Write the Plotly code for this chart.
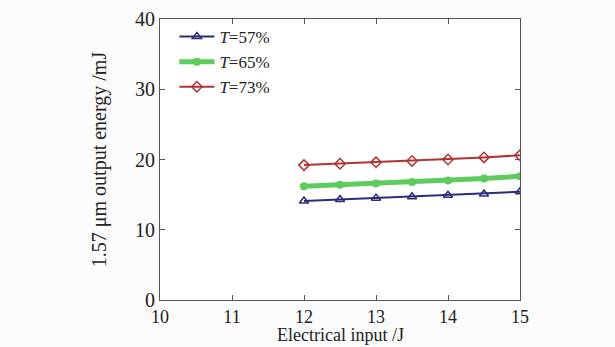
import plotly.graph_objects as go

x_vals = [12, 12.5, 13, 13.5, 14, 14.5, 15]
t57 = [14.1, 14.3, 14.5, 14.7, 14.9, 15.1, 15.4]
t65 = [16.2, 16.4, 16.6, 16.8, 17.0, 17.3, 17.6]
t73 = [19.2, 19.4, 19.6, 19.8, 20.0, 20.3, 20.6]
names = ["<i>T</i>=57%", "<i>T</i>=65%", "<i>T</i>=73%"]
x_title = "Electrical input /J"
y_title = "1.57 μm output energy /mJ"

font = "Liberation Serif, DejaVu Serif, serif"
fig = go.Figure()
fig.add_trace(go.Scatter(x=x_vals, y=t57, name=names[0], mode="lines+markers",
                         line=dict(color="#2a2c78", width=2),
                         marker=dict(symbol="triangle-up-open", size=8, color="#2a2c78", line=dict(width=1.5))))
fig.add_trace(go.Scatter(x=x_vals, y=t65, name=names[1], mode="lines+markers",
                         line=dict(color="#5ccc5c", width=5),
                         marker=dict(symbol="circle", size=8, color="#5ccc5c")))
fig.add_trace(go.Scatter(x=x_vals, y=t73, name=names[2], mode="lines+markers",
                         line=dict(color="#b03434", width=2),
                         marker=dict(symbol="diamond-open", size=8, color="#b03434", line=dict(width=1.5))))

axis_common = dict(showline=True, linecolor="#555", linewidth=1.2, mirror="ticks",
                   ticks="inside", ticklen=5, tickcolor="#555", showgrid=False, zeroline=False,
                   automargin=False)
fig.update_layout(
    width=615, height=347,
    margin=dict(l=160, r=95, t=19, b=47),
    paper_bgcolor="#fbfbfb", plot_bgcolor="#ffffff",
    font=dict(family=font, size=18, color="#222"),
    xaxis=dict(range=[10, 15], dtick=1, tickfont=dict(family=font, size=18, color="#222"),
               **axis_common),
    yaxis=dict(range=[0, 40], dtick=10, tickfont=dict(family=font, size=20, color="#222"),
               title=dict(text=y_title, standoff=22, font=dict(family=font, size=20)),
               **axis_common),
    legend=dict(x=0.04, y=1.0, xanchor="left", yanchor="top", bgcolor="rgba(0,0,0,0)",
                font=dict(family=font, size=17), tracegroupgap=0, itemwidth=35),
    showlegend=True,
)
fig.add_annotation(text=x_title, xref="paper", yref="paper", x=0.5, y=-0.166,
                   xanchor="center", yanchor="bottom", showarrow=False,
                   font=dict(family=font, size=18, color="#222"))
fig.write_html("out.html")
